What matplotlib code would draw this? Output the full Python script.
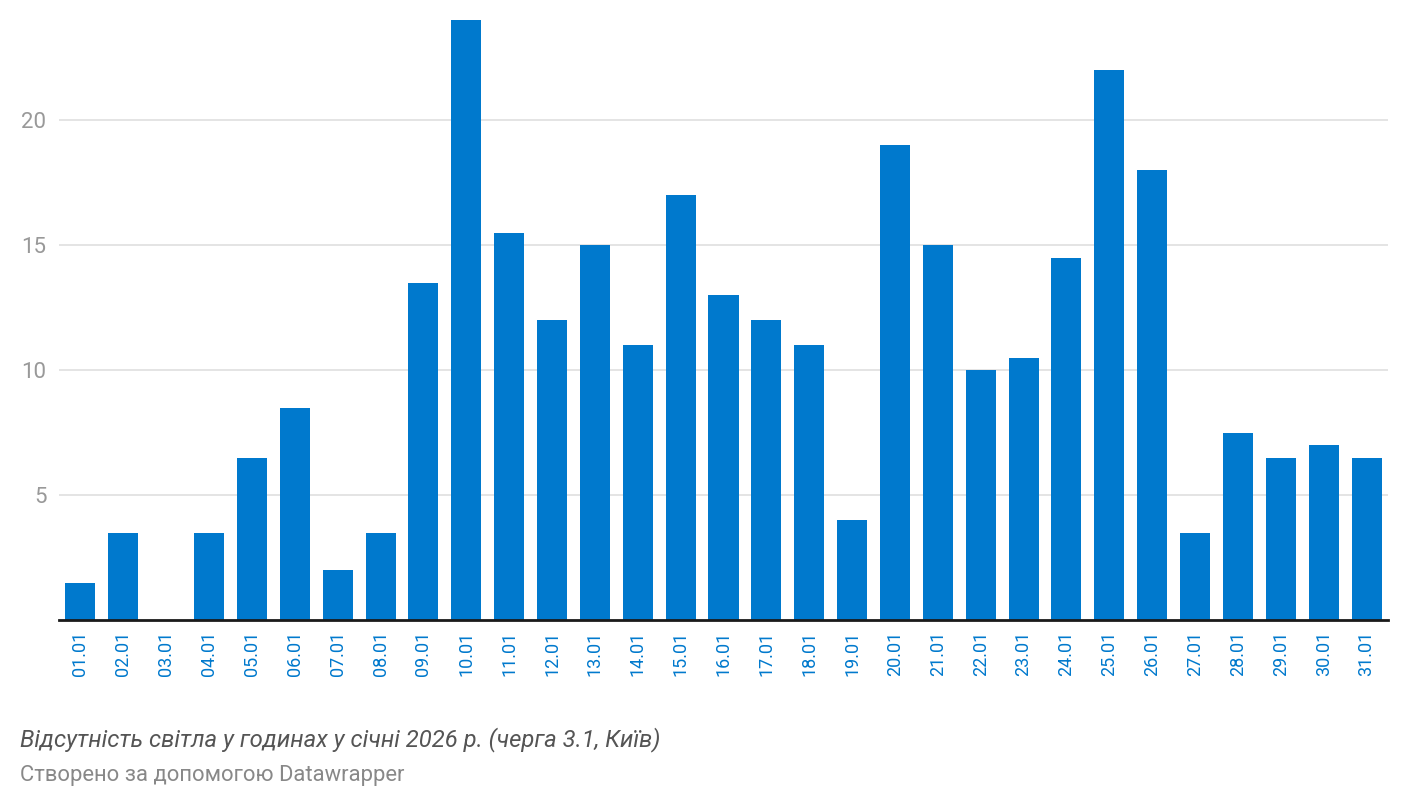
import matplotlib.pyplot as plt
import numpy as np

plt.rcParams['font.family'] = ['Roboto', 'DejaVu Sans']

# дані: години без світла по днях
days = ['01.01', '02.01', '03.01', '04.01', '05.01', '06.01', '07.01', '08.01',
        '09.01', '10.01', '11.01', '12.01', '13.01', '14.01', '15.01', '16.01',
        '17.01', '18.01', '19.01', '20.01', '21.01', '22.01', '23.01', '24.01',
        '25.01', '26.01', '27.01', '28.01', '29.01', '30.01', '31.01']
hours = [1.5, 3.5, 0, 3.5, 6.5, 8.5, 2, 3.5, 13.5, 24, 15.5, 12, 15, 11, 17, 13,
         12, 11, 4, 19, 15, 10, 10.5, 14.5, 22, 18, 3.5, 7.5, 6.5, 7, 6.5]
yticks = [5, 10, 15, 20]

title = 'Відсутність світла у годинах у січні 2026 р. (черга 3.1, Київ)'
source = 'Створено за допомогою Datawrapper'

blue = '#0079cd'

fig = plt.figure(figsize=(14.08, 8.10), dpi=100)
ax = fig.add_axes([59 / 1408, 1 - 620 / 810, 1329 / 1408, 600 / 810])

x = np.arange(len(days))
ax.bar(x, hours, width=0.7, color=blue, zorder=3)

ax.set_xlim(-0.5, len(days) - 0.5)
ax.set_ylim(0, 24)

ax.set_yticks(yticks)
ax.set_yticklabels([str(t) for t in yticks])
ax.grid(axis='y', color='#e2e2e2', linewidth=1.3, zorder=0)
ax.tick_params(axis='y', length=0, pad=9, labelsize=16, labelcolor='#999999')

ax.set_xticks(x)
ax.set_xticklabels(days, rotation=90)
ax.tick_params(axis='x', length=0, pad=8, labelsize=13, labelcolor=blue)

for s in ['top', 'right', 'left']:
    ax.spines[s].set_visible(False)
ax.spines['bottom'].set_color('#1a1a1a')
ax.spines['bottom'].set_linewidth(2)
ax.spines['bottom'].set_zorder(4)

fig.text(20 / 1408, 1 - 740 / 810, title, fontsize=17.2, style='italic',
         color='#555555', va='center', ha='left')
fig.text(20 / 1408, 1 - 775 / 810, source, fontsize=15.8,
         color='#888888', va='center', ha='left')

fig.savefig('out.png', dpi=100)
